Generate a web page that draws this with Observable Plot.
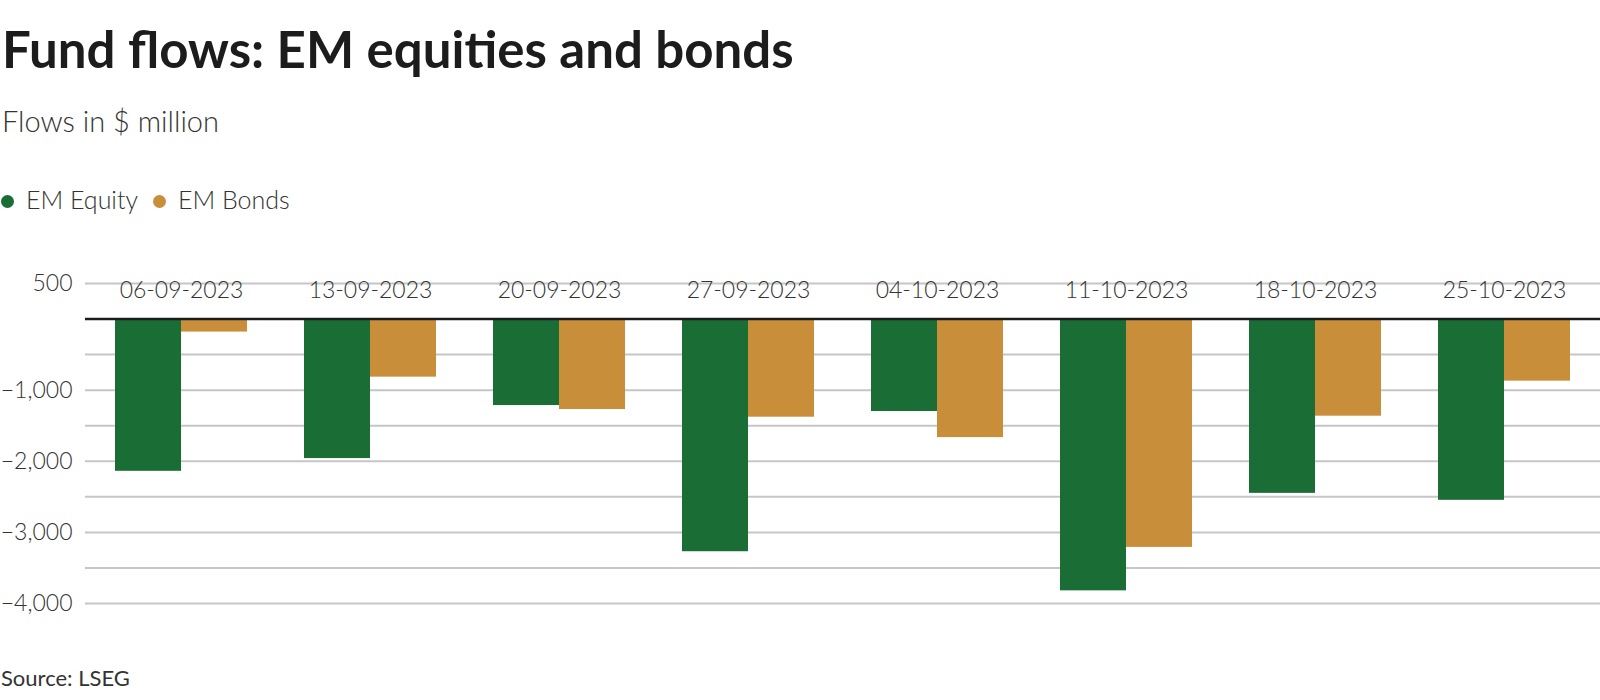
<!DOCTYPE html>
<html><head><meta charset="utf-8">
<script src="https://cdn.jsdelivr.net/npm/d3@7"></script>
<script src="https://cdn.jsdelivr.net/npm/@observablehq/plot@0.6"></script>
<style>
body{margin:0;background:#fff;font-family:Lato,"Noto Sans",sans-serif;color:#1c1c1c}
#wrap{position:relative;width:1600px;height:700px;overflow:hidden}
#title{position:absolute;left:2px;top:23px;font-size:51px;font-weight:700;line-height:1;white-space:nowrap}
#sub{position:absolute;left:2px;top:106px;font-size:29px;font-weight:300;line-height:1;color:#333}
#legend{position:absolute;left:0;top:187px;font-size:25px;font-weight:300;line-height:1;color:#333;white-space:nowrap}
#legend span.dot{display:inline-block;width:13px;height:13px;border-radius:50%;margin-left:1px;margin-right:12px;vertical-align:1px}
#legend span.item{margin-right:14px}
#chart{position:absolute;left:0;top:250px}
#source{position:absolute;left:1px;top:667px;font-size:22px;line-height:1;color:#333}
</style></head>
<body><div id="wrap">
<div id="title">Fund flows: EM equities and bonds</div>
<div id="sub">Flows in $ million</div>
<div id="legend"></div>
<div id="chart"></div>
<div id="source">Source: LSEG</div>
</div>
<script>
const dates = ["06-09-2023","13-09-2023","20-09-2023","27-09-2023","04-10-2023","11-10-2023","18-10-2023","25-10-2023"];
const equity = [-2141,-1962,-1216,-3272,-1300,-3822,-2451,-2549];
const bonds = [-183,-817,-1272,-1380,-1667,-3211,-1366,-873];
const seriesNames = ["EM Equity","EM Bonds"];
const seriesColors = ["#1a6e35","#c88e3a"];
const yTicks = [500,-1000,-2000,-3000,-4000];
const gridValues = [500,-500,-1000,-1500,-2000,-2500,-3000,-3500,-4000];

const rows = dates.map((d,i)=>({date:d, equity:equity[i], bonds:bonds[i]}));

document.getElementById("legend").innerHTML = seriesNames.map((n,i)=>
  `<span class="item"><span class="dot" style="background:${seriesColors[i]}"></span>${n}</span>`).join("");

const base = {
  width:1600, height:370, marginLeft:85, marginRight:0, marginTop:33, marginBottom:17,
  x:{type:"band", domain:dates, paddingInner:0.3, paddingOuter:0.15, axis:null},
  y:{domain:[-4000,500], axis:null},
  style:{fontFamily:'Lato,"Noto Sans",sans-serif', fontSize:"23px", color:"#333", background:"#fff"}
};
const probe = Plot.plot({...base, marks:[Plot.ruleY([0])]});
const half = probe.scale("x").bandwidth/2;

const plot = Plot.plot({...base, marks:[
  Plot.ruleY(gridValues, {stroke:"#c6c6c6", strokeWidth:2}),
  Plot.barY(rows, {x:"date", y:"equity", fill:seriesColors[0], insetRight:half}),
  Plot.barY(rows, {x:"date", y:"bonds", fill:seriesColors[1], insetLeft:half}),
  Plot.ruleY([0], {stroke:"#1c1c1c", strokeWidth:2.5}),
  Plot.text(dates, {x:d=>d, frameAnchor:"top", lineAnchor:"top", dy:-2, fontSize:23, fontWeight:300, fill:"#333"}),
  Plot.axisY({ticks:yTicks, tickSize:0, tickPadding:13, tickFormat:d3.format(","), fontSize:23, fontWeight:300, fill:"#333"})
]});
document.getElementById("chart").appendChild(plot);
</script>
</body></html>
